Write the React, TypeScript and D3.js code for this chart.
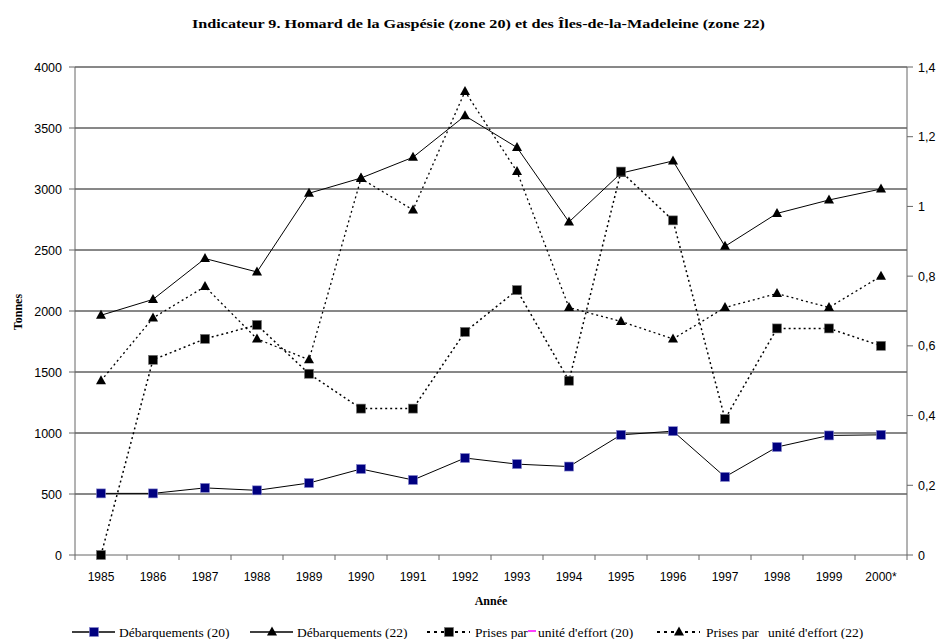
import * as d3 from "d3";

const years = ["1985", "1986", "1987", "1988", "1989", "1990", "1991", "1992", "1993", "1994", "1995", "1996", "1997", "1998", "1999", "2000*"];
const deb20 = [505, 505, 550, 530, 590, 705, 615, 795, 745, 725, 985, 1015, 640, 885, 980, 985];
const deb22 = [1965, 2095, 2430, 2320, 2965, 3090, 3260, 3600, 3340, 2730, 3130, 3230, 2530, 2800, 2910, 3000];
const pue20 = [0, 0.56, 0.62, 0.66, 0.52, 0.42, 0.42, 0.64, 0.76, 0.5, 1.1, 0.96, 0.39, 0.65, 0.65, 0.6];
const pue22 = [0.5, 0.68, 0.77, 0.62, 0.56, 1.08, 0.99, 1.33, 1.1, 0.71, 0.67, 0.62, 0.71, 0.75, 0.71, 0.8];
const leftTicks = [0, 500, 1000, 1500, 2000, 2500, 3000, 3500, 4000];
const rightTicks = [0, 0.2, 0.4, 0.6, 0.8, 1, 1.2, 1.4];

const W = 939;
const H = 639;
const margin = { top: 67, right: 32, bottom: 84, left: 75 };
const sans = "Arial, 'Liberation Sans', sans-serif";
const serif = "'Times New Roman', 'Liberation Serif', serif";

const Square = ({ x, y, fill }: { x: number; y: number; fill: string }) => (
  <rect x={x - 4.5} y={y - 4.5} width={9} height={9} fill={fill} stroke={fill === "black" ? "#777" : "#8888cc"} strokeWidth={0.6} />
);
const Tri = ({ x, y }: { x: number; y: number }) => (
  <path d={`M${x},${y - 5.5}L${x + 5},${y + 3.5}L${x - 5},${y + 3.5}Z`} fill="black" />
);

export default function App() {
  const bw = W - margin.left - margin.right;
  const bh = H - margin.top - margin.bottom;
  const x = d3.scaleBand().domain(years).range([0, bw]);
  const cx = (i: number) => (x(years[i]) ?? 0) + x.bandwidth() / 2;
  const yL = d3.scaleLinear().domain([0, 4000]).range([bh, 0]);
  const yR = d3.scaleLinear().domain([0, 1.4]).range([bh, 0]);
  const lineL = d3.line<number>().x((_, i) => cx(i)).y((d) => yL(d));
  const lineR = d3.line<number>().x((_, i) => cx(i)).y((d) => yR(d));
  const fmtR = (v: number) => String(Math.round(v * 10) / 10).replace(".", ",");

  // legend: line start, text pieces [offset, text]
  const legend = [
    { x0: 72, parts: [[47, "Débarquements (20)"]], dash: "", mk: "sq20" },
    { x0: 250, parts: [[47, "Débarquements (22)"]], dash: "", mk: "tri" },
    { x0: 427, parts: [[48, "Prises par"], [111, "unité d'effort (20)"]], dash: "3,4", mk: "sq" },
    { x0: 657, parts: [[49, "Prises par"], [111, "unité d'effort (22)"]], dash: "3,4", mk: "tri" },
  ];

  return (
    <svg width={W} height={H} style={{ position: "absolute", left: 0, top: 0, background: "white" }}>
      <text x={192} y={28} textLength={573} lengthAdjust="spacingAndGlyphs" fontFamily={serif} fontWeight="bold" fontSize={13}>
        Indicateur 9. Homard de la Gaspésie (zone 20) et des Îles-de-la-Madeleine (zone 22)
      </text>
      <g transform={`translate(${margin.left},${margin.top})`}>
        {leftTicks.filter((t) => t > 0).map((t) => (
          <line key={t} x1={0} x2={bw} y1={yL(t)} y2={yL(t)} stroke="#111" strokeWidth={1} />
        ))}
        <line x1={0} x2={0} y1={0} y2={bh} stroke="#666" />
        <line x1={bw} x2={bw} y1={0} y2={bh} stroke="#666" />
        <line x1={0} x2={bw} y1={bh} y2={bh} stroke="#666" />
        {leftTicks.map((t) => (
          <g key={t} transform={`translate(0,${yL(t)})`}>
            <line x1={-6} x2={0} stroke="#666" />
            <text x={-13} dy="0.36em" textAnchor="end" fontFamily={sans} fontSize={12.5}>{t}</text>
          </g>
        ))}
        {rightTicks.map((t) => (
          <g key={t} transform={`translate(${bw},${yR(t)})`}>
            <line x1={0} x2={6} stroke="#666" />
            <text x={11} dy="0.36em" textAnchor="start" fontFamily={sans} fontSize={12.5}>{fmtR(t)}</text>
          </g>
        ))}
        {years.map((yr, i) => (
          <g key={yr}>
            <line x1={x(yr) ?? 0} x2={x(yr) ?? 0} y1={bh} y2={bh + 5} stroke="#666" />
            <text x={cx(i)} y={bh + 26} textAnchor="middle" fontFamily={sans} fontSize={12}>{yr}</text>
          </g>
        ))}
        <line x1={bw} x2={bw} y1={bh} y2={bh + 5} stroke="#666" />

        <path d={lineR(pue20) ?? ""} fill="none" stroke="black" strokeWidth={1.5} strokeDasharray="2,3" />
        <path d={lineR(pue22) ?? ""} fill="none" stroke="black" strokeWidth={1.3} strokeDasharray="2,3" />
        <path d={lineL(deb22) ?? ""} fill="none" stroke="black" strokeWidth={1} />
        <path d={lineL(deb20) ?? ""} fill="none" stroke="black" strokeWidth={1} />
        {pue22.map((v, i) => <Tri key={"p22" + i} x={cx(i)} y={yR(v)} />)}
        {deb22.map((v, i) => <Tri key={"d22" + i} x={cx(i)} y={yL(v)} />)}
        {pue20.map((v, i) => <Square key={"p20" + i} x={cx(i)} y={yR(v)} fill="black" />)}
        {deb20.map((v, i) => <Square key={"d20" + i} x={cx(i)} y={yL(v)} fill="#000080" />)}
      </g>
      <text transform="translate(22,312) rotate(-90)" textAnchor="middle" fontFamily={serif} fontWeight="bold" fontSize={12}>
        Tonnes
      </text>
      <text x={491} y={605} textAnchor="middle" fontFamily={serif} fontWeight="bold" fontSize={12}>
        Année
      </text>
      {legend.map((l) => (
        <g key={l.x0} transform={`translate(${l.x0},632)`}>
          <line x1={0} x2={43} stroke="black" strokeWidth={l.dash ? 2 : 1.5} strokeDasharray={l.dash || undefined} />
          {l.mk === "tri" ? <Tri x={22} y={0} /> : <Square x={22} y={0} fill={l.mk === "sq20" ? "#000080" : "black"} />}
          {l.parts.map(([dx, t]) => (
            <text key={t as string} x={dx as number} dy="0.35em" fontFamily={serif} fontSize={13.5}>{t}</text>
          ))}
        </g>
      ))}
      <line x1={528} x2={536} y1={631} y2={631} stroke="#ff00ff" strokeWidth={1.5} />
    </svg>
  );
}
